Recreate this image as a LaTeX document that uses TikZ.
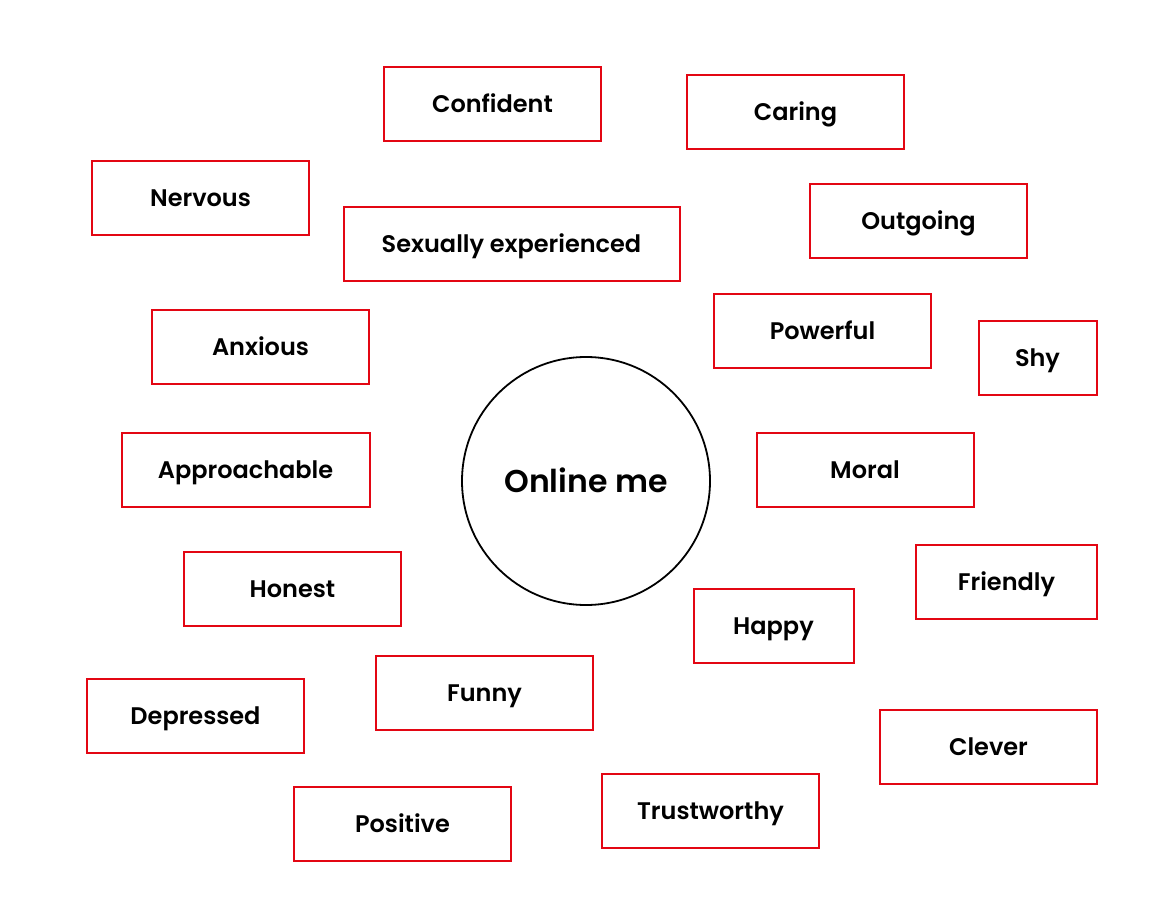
\documentclass[tikz,border=0pt]{standalone}
\usepackage{fontspec}
\setmainfont{Poppins}[BoldFont={Poppins SemiBold}]
\definecolor{boxred}{HTML}{E30613}

\begin{document}
\begin{tikzpicture}[x=1pt,y=-1pt,
	trait/.style={draw=boxred, line width=2pt, minimum width=217pt, minimum height=74pt,
		inner sep=0pt, font=\fontsize{24}{28}\selectfont\bfseries, text height=17pt, text depth=0pt},
	me/.style={circle, draw, line width=1.8pt, minimum size=248pt, inner sep=0pt,
		font=\fontsize{31.5}{36}\selectfont\bfseries, text height=22pt, text depth=0pt}]
	\useasboundingbox (0,0) rectangle (1170,912);
	\node[me] (Me) at (586,481) {Online me};
	% left column
		\node[trait] (Conf) at (492.5,104.5) {Confident};
		\node[trait] (Nerv) at (200.5,198.5) {Nervous};
		\node[trait, minimum width=336pt] (Sex) at (511.5,244) {Sexually experienced};
		\node[trait] (Anx) at (260.5,346.5) {Anxious};
		\node[trait, minimum width=248pt] (Appr) at (245.5,469.5) {Approachable};
		\node[trait] (Hon) at (292.5,588.5) {Honest};
		\node[trait] (Fun) at (484.5,692.5) {Funny};
		\node[trait] (Dep) at (195.5,715.5) {Depressed};
		\node[trait] (Pos) at (402.5,823.5) {Positive};
	% right column
		\node[trait] (Car) at (795.5,112.5) {Caring};
		\node[trait] (Out) at (918.5,221) {Outgoing};
		\node[trait] (Pow) at (822.5,330.5) {Powerful};
		\node[trait, minimum width=118pt] (Shy) at (1037.5,357.5) {Shy};
		\node[trait] (Mor) at (865,469.5) {Moral};
		\node[trait, minimum width=181pt] (Fri) at (1006.5,581.5) {Friendly};
		\node[trait, minimum width=160pt] (Hap) at (773.5,625.5) {Happy};
		\node[trait] (Clev) at (988.5,746.5) {Clever};
		\node[trait] (Trust) at (710.5,810.5) {Trustworthy};
\end{tikzpicture}
\end{document}
